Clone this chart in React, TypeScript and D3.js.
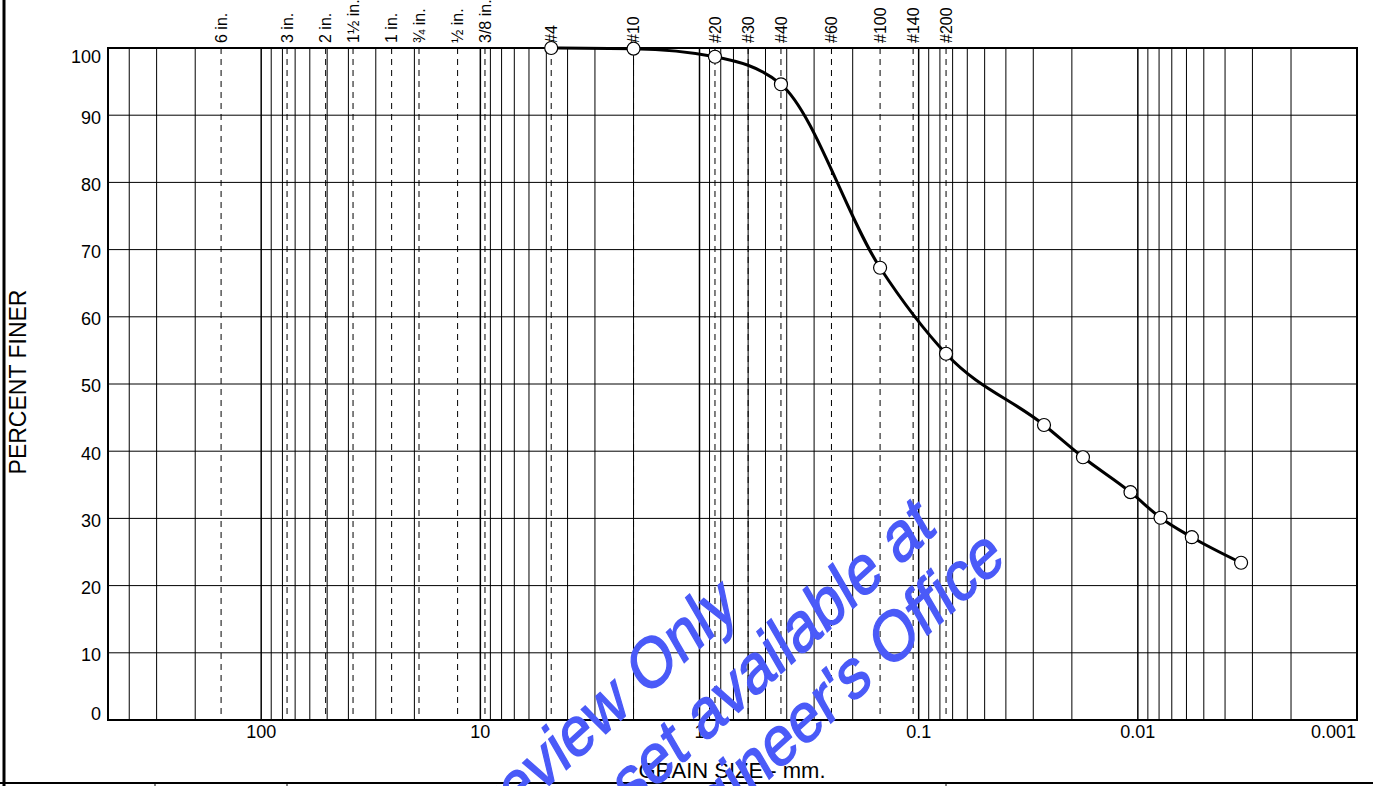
import React from 'react';
import * as d3 from 'd3';

// sieve openings shown as dashed reference lines (mm)
const sieveLabels = ['6 in.', '3 in.', '2 in.', '1½ in.', '1 in.', '¾ in.', '½ in.', '3/8 in.', '#4', '#10', '#20', '#30', '#40', '#60', '#100', '#140', '#200'];
const sieveSizes = [152.4, 76.2, 50.8, 38.1, 25.4, 19.05, 12.7, 9.525, 4.75, 2.0, 0.85, 0.6, 0.425, 0.25, 0.15, 0.106, 0.075];

// test results: grain size (mm) vs percent finer
const grainSizes = [4.75, 2.0, 0.85, 0.425, 0.15, 0.075, 0.0268, 0.0178, 0.0108, 0.00788, 0.00567, 0.00338];
const percentFiner = [100, 99.9, 98.7, 94.6, 67.3, 54.5, 43.9, 39.1, 33.9, 30.1, 27.2, 23.4];

const xTickValues = [100, 10, 1, 0.1, 0.01, 0.001];
const xTickLabels = ['100', '10', '1', '0.1', '0.01', '0.001'];
const yTickValues = [0, 10, 20, 30, 40, 50, 60, 70, 80, 90, 100];

const watermarkLines = ['Preview Only', 'Complete set available at', "Engineer's Office"];

const W = 1373;
const H = 786;
const margin = { top: 48, right: 16, bottom: 66, left: 108 };
const font = '"Liberation Sans", Arial, sans-serif';

export default function App() {
  const x = d3.scaleLog().domain([500, 0.001]).range([margin.left, W - margin.right]);
  const y = d3.scaleLinear().domain([0, 100]).range([H - margin.bottom, margin.top]);

  const minorTicks = x.ticks();
  const isDecade = (v: number) => Math.abs(Math.log10(v) - Math.round(Math.log10(v))) < 1e-6;

  const pts = grainSizes.map((g, i) => [x(g), y(percentFiner[i])] as [number, number]);
  const line = d3.line().curve(d3.curveMonotoneX)(pts) || '';

  const x0 = margin.left;
  const x1 = W - margin.right;
  const y0 = H - margin.bottom;
  const y1 = margin.top;

  // watermark baseline end points; text is rotated then stretched vertically
  const wmEnds: [number, number][] = [[740, 612], [937, 532], [1007, 563]];

  return (
    <>
      <style>{`body{margin:0}`}</style>
      <svg width={W} height={H} style={{ display: 'block', background: '#fff' }} fontFamily={font}>
        {/* outer frame */}
        <line x1={4} x2={4} y1={0} y2={H} stroke="#000" strokeWidth={3} />
        <line x1={0} x2={W} y1={783} y2={783} stroke="#000" strokeWidth={2} />
        {[155, 287, 633, 946].map((tx) => (
          <line key={tx} x1={tx} x2={tx} y1={783} y2={H} stroke="#000" strokeWidth={1} />
        ))}

        {/* vertical grid */}
        {minorTicks.map((t) => (
          <line key={'v' + t} x1={x(t)} x2={x(t)} y1={y1} y2={y0} stroke="#000" strokeWidth={isDecade(t) ? 1.5 : 1} />
        ))}
        {/* horizontal grid */}
        {yTickValues.map((t) => (
          <line key={'h' + t} x1={x0} x2={x1} y1={y(t)} y2={y(t)} stroke="#000" strokeWidth={1} />
        ))}

        {/* sieve lines */}
        {sieveSizes.map((s, i) => (
          <g key={'s' + i}>
            <line x1={x(s)} x2={x(s)} y1={y1} y2={y0} stroke="#000" strokeWidth={1} strokeDasharray="6,5" />
            <text transform={`translate(${x(s)},${y1 - 5}) rotate(-90)`} dy="0.35em" fontSize={16} fill="#000">
              {sieveLabels[i]}
            </text>
          </g>
        ))}

        {/* plot border */}
        <rect x={x0} y={y1} width={x1 - x0} height={y0 - y1} fill="none" stroke="#000" strokeWidth={2} />

        {/* y ticks */}
        {yTickValues.map((t) => (
          <text key={'yl' + t} x={x0 - 7} y={y(t) + (t === 100 ? 9 : t === 0 ? -6 : 2)} dy="0.35em" textAnchor="end" fontSize={18}>
            {t}
          </text>
        ))}
        {/* x ticks */}
        {xTickValues.map((t, i) => (
          <text key={'xl' + t} x={i === xTickValues.length - 1 ? x(t) - 1 : x(t)} y={738} textAnchor={i === xTickValues.length - 1 ? 'end' : 'middle'} fontSize={18}>
            {xTickLabels[i]}
          </text>
        ))}

        <text transform="translate(26,382) rotate(-90)" textAnchor="middle" fontSize={23}>PERCENT FINER</text>
        <text x={732} y={778} textAnchor="middle" fontSize={22}>GRAIN SIZE - mm.</text>

        {/* gradation curve */}
        <path d={line} fill="none" stroke="#000" strokeWidth={3} />
        {pts.map(([px, py], i) => (
          <circle key={'p' + i} cx={px} cy={py} r={6.5} fill="#fff" stroke="#000" strokeWidth={1.2} />
        ))}

        {/* watermark */}
        {watermarkLines.map((txt, i) => (
          <text key={'w' + i} transform={`translate(${wmEnds[i][0]},${wmEnds[i][1]}) scale(1,1.25) rotate(-36)`} textAnchor="end" fontSize={57} fill="#4a5af8" stroke="#4a5af8" strokeWidth={1.2}>
            {txt}
          </text>
        ))}
      </svg>
    </>
  );
}
